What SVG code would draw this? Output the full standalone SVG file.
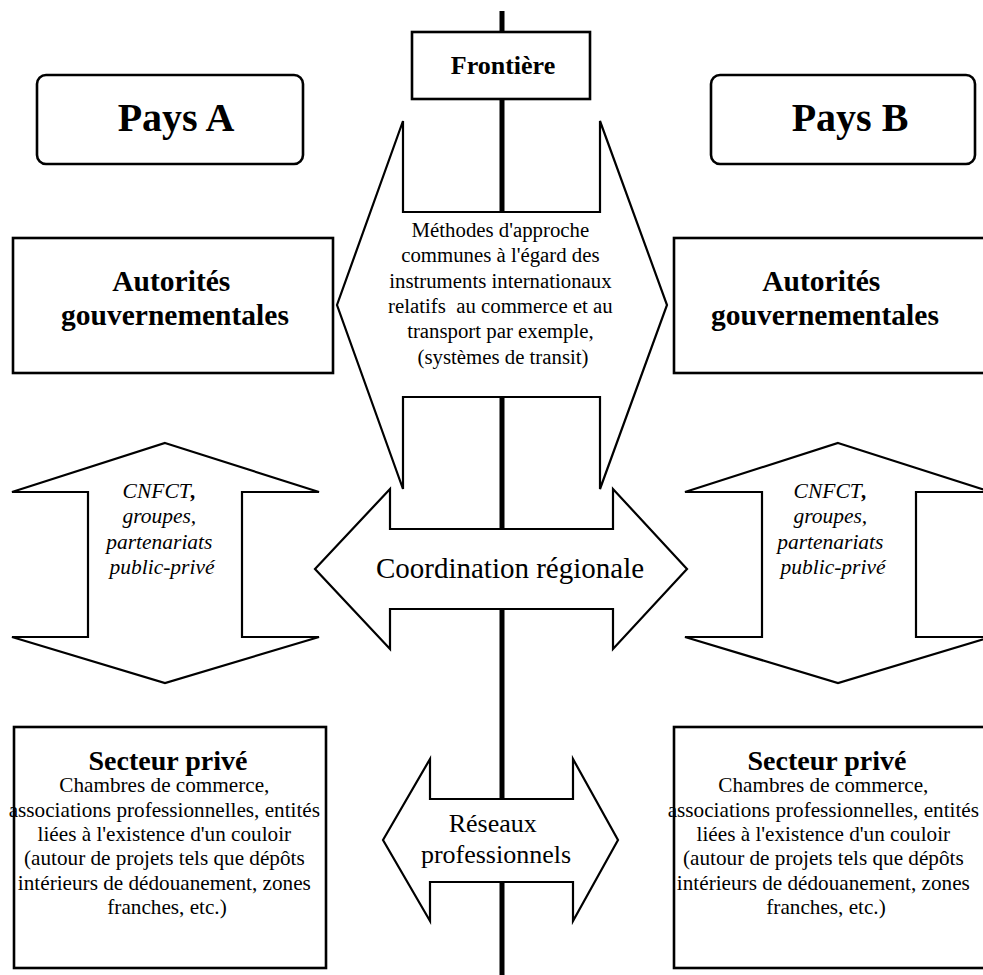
<svg xmlns="http://www.w3.org/2000/svg" width="983" height="975" viewBox="0 0 983 975">
  <style>
    .shape { fill: #fff; stroke: #000; stroke-width: 2.2; stroke-linejoin: miter; }
    .box { fill: #fff; stroke: #000; stroke-width: 2.6; }
    text { font-family: 'Liberation Serif', 'Times New Roman', serif; fill: #000; text-anchor: middle; }
    .b { font-weight: bold; }
    .i { font-style: italic; }
  </style>

  <!-- border line between the two countries -->
  <g id="connectors">
    <line x1="502" y1="11" x2="502" y2="975" stroke="#000" stroke-width="5"/>
  </g>

  <g id="frontiere">
    <rect class="box" x="412" y="32" width="178" height="67"/>
    <text class="b" x="503" y="74" font-size="26">Frontière</text>
  </g>

  <g id="pays-a">
    <rect class="box" x="37" y="75" width="266" height="89" rx="9" ry="9"/>
    <text class="b" x="176" y="131" font-size="40">Pays A</text>
  </g>

  <g id="pays-b">
    <rect class="box" x="711" y="75" width="264" height="89" rx="9" ry="9"/>
    <text class="b" x="850" y="131" font-size="40">Pays B</text>
  </g>

  <g id="methodes">
    <polygon class="shape" points="403,121 403,212 600,212 600,121 667,305 600,489 600,397 403,397 403,489 337,305"/>
    <text x="503" font-size="20.8">
      <tspan x="503" y="237">Méthodes d'approche</tspan>
      <tspan x="503" y="262">communes à l'égard des</tspan>
      <tspan x="503" y="288">instruments internationaux</tspan>
      <tspan x="503" y="313" xml:space="preserve">relatifs  au commerce et au</tspan>
      <tspan x="503" y="338">transport par exemple,</tspan>
      <tspan x="503" y="364">(systèmes de transit)</tspan>
    </text>
  </g>

  <g id="autorites-a">
    <rect class="box" x="13" y="238" width="320" height="135"/>
    <text class="b" font-size="29.5">
      <tspan x="175" y="291">Autorités</tspan>
      <tspan x="175" y="325">gouvernementales</tspan>
    </text>
  </g>

  <g id="autorites-b">
    <rect class="box" x="674" y="238" width="320" height="135"/>
    <text class="b" font-size="29.5">
      <tspan x="825" y="291">Autorités</tspan>
      <tspan x="825" y="325">gouvernementales</tspan>
    </text>
  </g>

  <g id="partenariats-a">
    <polygon class="shape" points="165,443 319,492 242,492 242,637 319,637 165,683 12,637 88,637 88,492 12,492"/>
    <text class="i" font-size="21.5">
      <tspan x="162" y="498">CNFCT<tspan font-weight="bold">,</tspan></tspan>
      <tspan x="162" y="523">groupes,</tspan>
      <tspan x="162" y="549">partenariats</tspan>
      <tspan x="162" y="574">public-privé</tspan>
    </text>
  </g>

  <g id="partenariats-b">
    <polygon class="shape" points="838,443 991,492 916,492 916,637 991,637 838,683 685,637 762,637 762,492 685,492"/>
    <text class="i" font-size="21.5">
      <tspan x="833" y="498">CNFCT<tspan font-weight="bold">,</tspan></tspan>
      <tspan x="833" y="523">groupes,</tspan>
      <tspan x="833" y="549">partenariats</tspan>
      <tspan x="833" y="574">public-privé</tspan>
    </text>
  </g>

  <g id="coordination">
    <polygon class="shape" points="315,569 390,489 390,529 613,529 613,489 687,569 613,649 613,609 390,609 390,649"/>
    <text x="510" y="578" font-size="29">Coordination régionale</text>
  </g>

  <g id="reseaux">
    <polygon class="shape" points="383,840 430,759 430,799 573,799 573,759 618,840 573,921 573,882 430,882 430,921"/>
    <text font-size="26">
      <tspan x="496" y="832">Réseaux</tspan>
      <tspan x="496" y="863">professionnels</tspan>
    </text>
  </g>

  <g id="secteur-a">
    <rect class="box" x="14" y="727" width="312" height="241"/>
    <text class="b" x="168" y="770" font-size="28">Secteur privé</text>
    <text font-size="21.2">
      <tspan x="167" y="792">Chambres de commerce,</tspan>
      <tspan x="167" y="817">associations professionnelles, entités</tspan>
      <tspan x="167" y="841">liées à l'existence d'un couloir</tspan>
      <tspan x="167" y="865">(autour de projets tels que dépôts</tspan>
      <tspan x="167" y="890">intérieurs de dédouanement, zones</tspan>
      <tspan x="167" y="914">franches, etc.)</tspan>
    </text>
  </g>

  <g id="secteur-b">
    <rect class="box" x="674" y="727" width="312" height="241"/>
    <text class="b" x="827" y="770" font-size="28">Secteur privé</text>
    <text font-size="21.2">
      <tspan x="826" y="792">Chambres de commerce,</tspan>
      <tspan x="826" y="817">associations professionnelles, entités</tspan>
      <tspan x="826" y="841">liées à l'existence d'un couloir</tspan>
      <tspan x="826" y="865">(autour de projets tels que dépôts</tspan>
      <tspan x="826" y="890">intérieurs de dédouanement, zones</tspan>
      <tspan x="826" y="914">franches, etc.)</tspan>
    </text>
  </g>
</svg>
